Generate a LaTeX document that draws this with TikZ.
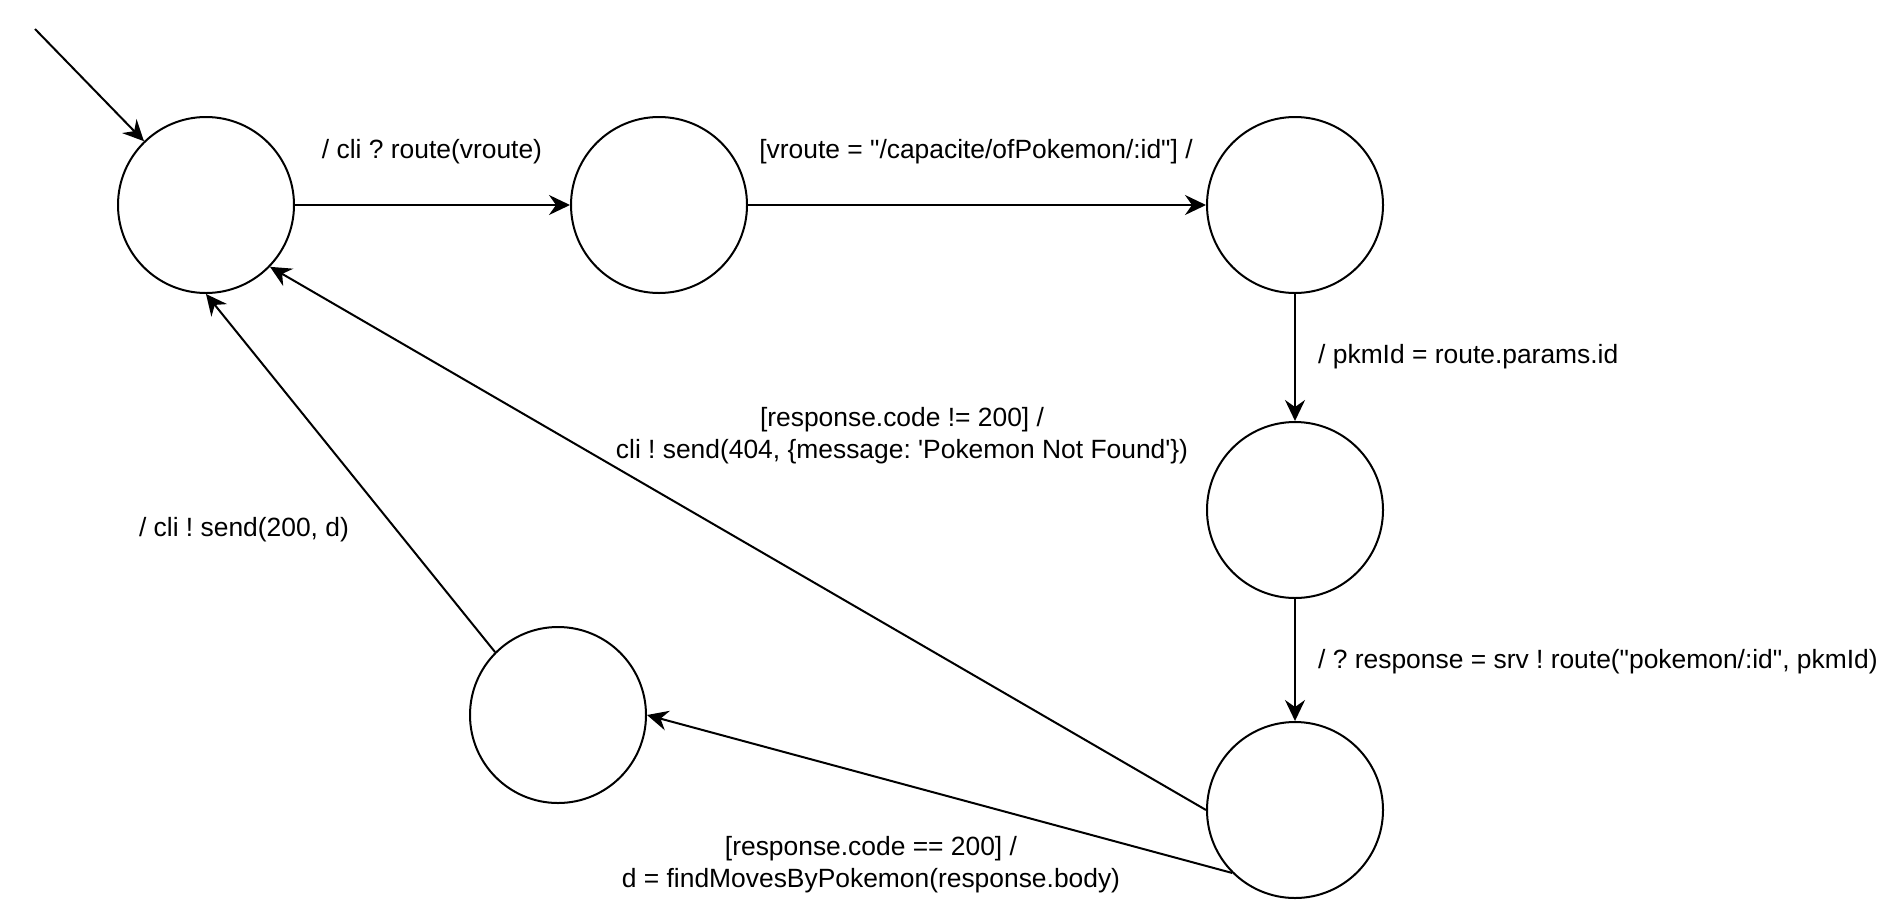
\documentclass[tikz,border=0pt]{standalone}
\usepackage{fontspec}
\setmainfont{Liberation Sans}[Ligatures=TeXOff]
\usetikzlibrary{arrows.meta}
\newcommand\dq{\char34\relax}
\newcommand\sq{\char39\relax}
\begin{document}
\frenchspacing
\begin{tikzpicture}[x=1pt,y=-1pt,
  state/.style={circle,draw=black,line width=2pt,minimum size=176pt,inner sep=0pt,fill=white},
  trans/.style={line width=2pt,-{Stealth[length=21pt,width=20pt,inset=7pt]}},
  lbl/.style={inner sep=0pt,font=\fontsize{26.4}{31.7}\selectfont\frenchspacing,align=center,text=black}]
\useasboundingbox[fill=white] (0,0) rectangle (1886,919);
\node[state] (c1) at (206,205) {};
\node[state] (c2) at (659,205) {};
\node[state] (c3) at (1295,205) {};
\node[state] (c4) at (1295,510) {};
\node[state] (c5) at (1295,810) {};
\node[state] (c6) at (558,715) {};
\coordinate (init) at (35,29);
\draw[trans] (init) -- (c1);
\draw[trans] (c1) -- (c2);
\draw[trans] (c2) -- (c3);
\draw[trans] (c3) -- (c4);
\draw[trans] (c4) -- (c5);
\draw[trans] (c5.west) -- (c1.-44);
\draw[trans] (c5.225) -- (c6.east);
\draw[trans] (c6.135) -- (c1.south);
\node[lbl] (l1) at (432,152) {/ cli ? route(vroute)};
\node[lbl] (l2) at (976,152) {[vroute = \dq/capacite/ofPokemon/:id\dq] /};
\node[lbl,anchor=west] (l3) at (1318,357) {/ pkmId = route.params.id};
\node[lbl] (l4) at (902,436) {[response.code != 200] /\\cli ! send(404, \{message: \sq Pokemon Not Found\sq\})};
\node[lbl] (l5) at (244,530) {/ cli ! send(200, d)};
\node[lbl,anchor=west] (l6) at (1318,662) {/ ? response = srv ! route(\dq pokemon/:id\dq, pkmId)};
\node[lbl] (l7) at (871,865) {[response.code == 200] /\\d = findMovesByPokemon(response.body)};
\end{tikzpicture}
\end{document}
